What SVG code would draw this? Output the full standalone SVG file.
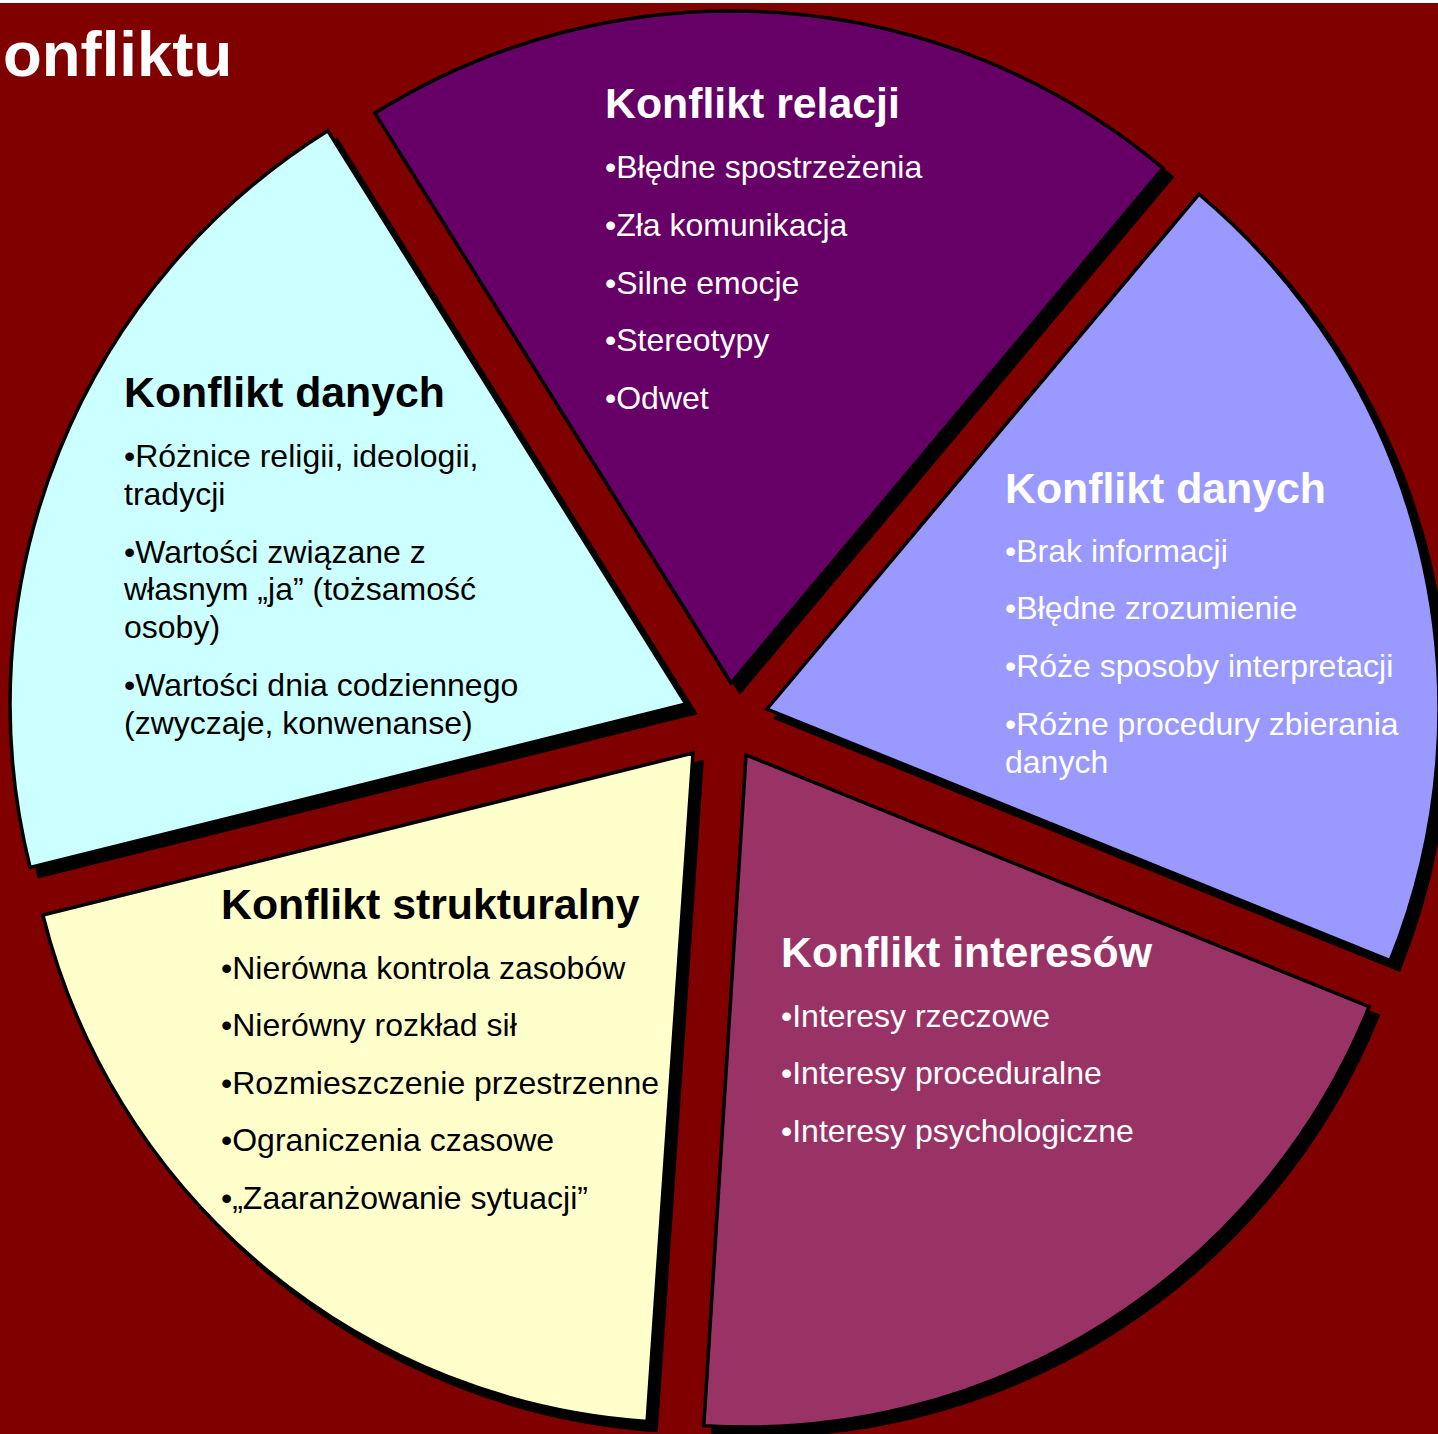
<svg xmlns="http://www.w3.org/2000/svg" width="1438" height="1434" viewBox="0 0 1438 1434">
<style>
.sh{fill:#000;stroke:#000;stroke-width:3.5;stroke-linejoin:miter}
.wd{stroke:#000;stroke-width:3.5;stroke-linejoin:miter}
text{font-family:"Liberation Sans",Arial,sans-serif}
.t{font-size:42.8px;font-weight:bold}
.b{font-size:32px}
.w{fill:#fff}
.k{fill:#000}
</style>
<rect x="0" y="0" width="1438" height="1434" fill="#fff"/>
<rect x="0" y="3" width="1438" height="1431" fill="#800000"/>
<text x="3" y="76" class="w" style="font-size:63.5px;font-weight:bold">onfliktu</text>

<g id="relacji">
<path class="sh" transform="translate(9,9)" d="M731,683 L374.9,113.1 A672,672 0 0 1 1163,168.2 Z"/>
<path class="wd" fill="#660066" d="M731,683 L374.9,113.1 A672,672 0 0 1 1163,168.2 Z"/>
<text x="605" y="118" class="t w">Konflikt relacji</text>
<text class="b w"><tspan x="605" y="178">•Błędne spostrzeżenia</tspan><tspan x="605" y="236">•Zła komunikacja</tspan><tspan x="605" y="293.5">•Silne emocje</tspan><tspan x="605" y="351">•Stereotypy</tspan><tspan x="605" y="408.5">•Odwet</tspan></text>
</g>

<g id="danych-right">
<path class="sh" transform="translate(9,9)" d="M767,709 L1199,194.2 A672,672 0 0 1 1390.1,960.7 Z"/>
<path class="wd" fill="#9999FF" d="M767,709 L1199,194.2 A672,672 0 0 1 1390.1,960.7 Z"/>
<text x="1005" y="503" class="t w">Konflikt danych</text>
<text class="b w"><tspan x="1005" y="562">•Brak informacji</tspan><tspan x="1005" y="619">•Błędne zrozumienie</tspan><tspan x="1005" y="677">•Róże sposoby interpretacji</tspan><tspan x="1005" y="734.5">•Różne procedury zbierania</tspan><tspan x="1005" y="772.5">danych</tspan></text>
</g>

<g id="interesow">
<path class="sh" transform="translate(9,9)" d="M746,755 L1369.1,1006.7 A672,672 0 0 1 703.8,1425.7 Z"/>
<path class="wd" fill="#993366" d="M746,755 L1369.1,1006.7 A672,672 0 0 1 703.8,1425.7 Z"/>
<text x="781" y="967" class="t w">Konflikt interesów</text>
<text class="b w"><tspan x="781" y="1026.5">•Interesy rzeczowe</tspan><tspan x="781" y="1084">•Interesy proceduralne</tspan><tspan x="781" y="1141.5">•Interesy psychologiczne</tspan></text>
</g>

<g id="strukturalny">
<path class="sh" transform="translate(9,9)" d="M693,753 L647.1,1421.4 A670,670 0 0 1 42.9,915.1 Z"/>
<path class="wd" fill="#FFFFCC" d="M693,753 L647.1,1421.4 A670,670 0 0 1 42.9,915.1 Z"/>
<text x="221" y="918.5" class="t k">Konflikt strukturalny</text>
<text class="b k"><tspan x="221" y="978.5">•Nierówna kontrola zasobów</tspan><tspan x="221" y="1036">•Nierówny rozkład sił</tspan><tspan x="221" y="1093.5">•Rozmieszczenie przestrzenne</tspan><tspan x="221" y="1151">•Ograniczenia czasowe</tspan><tspan x="221" y="1208.5">•„Zaaranżowanie sytuacji”</tspan></text>
</g>

<g id="danych-left">
<path class="sh" transform="translate(9,9)" d="M686,704 L30.1,867.5 A676,676 0 0 1 327.8,130.7 Z"/>
<path class="wd" fill="#CCFFFF" d="M686,704 L30.1,867.5 A676,676 0 0 1 327.8,130.7 Z"/>
<text x="124" y="407" class="t k">Konflikt danych</text>
<text class="b k"><tspan x="124" y="467">•Różnice religii, ideologii,</tspan><tspan x="124" y="504.5">tradycji</tspan><tspan x="124" y="562.5">•Wartości związane z</tspan><tspan x="124" y="600">własnym „ja” (tożsamość</tspan><tspan x="124" y="638">osoby)</tspan><tspan x="124" y="696">•Wartości dnia codziennego</tspan><tspan x="124" y="734">(zwyczaje, konwenanse)</tspan></text>
</g>
<g id="connectors"/>
</svg>
